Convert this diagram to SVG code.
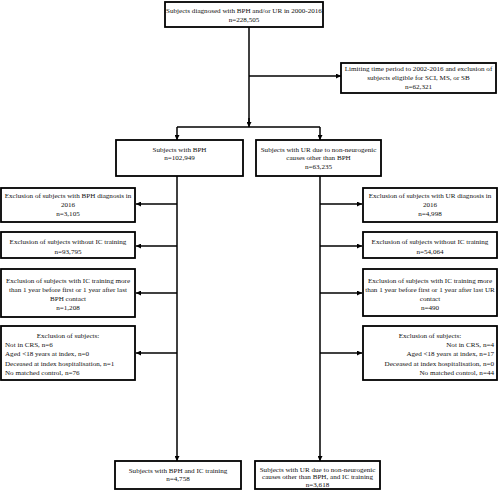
<svg xmlns="http://www.w3.org/2000/svg" width="500" height="498" viewBox="0 0 500 498">
<defs>
<marker id="ah" viewBox="0 0 10 10" refX="10" refY="5" markerWidth="5" markerHeight="5" markerUnits="userSpaceOnUse" orient="auto">
<path d="M0,0 L10,5 L0,10 z" fill="#000"/>
</marker>
<style>
.box{fill:#fff;stroke:#000;stroke-width:1.8}
.ln{fill:none;stroke:#000;stroke-width:1.5}
.ar{fill:none;stroke:#000;stroke-width:1.5;marker-end:url(#ah)}
text{font-family:"Liberation Serif","Times New Roman",serif;font-size:7.1px;fill:#111}
.c{text-anchor:middle}
.r{text-anchor:end}
</style>
</defs>
<rect width="500" height="498" fill="#fff"/>
<g id="connectors">
<line class="ln" x1="249" y1="27" x2="249" y2="122"/>
<line class="ar" x1="249" y1="118" x2="249" y2="127"/>
<line class="ar" x1="249" y1="76" x2="341" y2="76"/>
<line class="ln" x1="177" y1="127" x2="320" y2="127"/>
<line class="ar" x1="177" y1="127" x2="177" y2="140"/>
<line class="ar" x1="320" y1="127" x2="320" y2="140"/>
<line class="ar" x1="177" y1="176" x2="177" y2="461"/>
<line class="ar" x1="320" y1="176" x2="320" y2="461"/>
<line class="ar" x1="177" y1="204" x2="136" y2="204"/>
<line class="ar" x1="177" y1="246" x2="136" y2="246"/>
<line class="ar" x1="177" y1="293" x2="136" y2="293"/>
<line class="ar" x1="177" y1="353" x2="136" y2="353"/>
<line class="ar" x1="320" y1="204" x2="362" y2="204"/>
<line class="ar" x1="320" y1="246" x2="362" y2="246"/>
<line class="ar" x1="320" y1="293" x2="362" y2="293"/>
<line class="ar" x1="320" y1="353" x2="362" y2="353"/>
</g>
<g id="n-start">
<rect class="box" x="165" y="2" width="158" height="25"/>
<text class="c" x="244" y="12.5">Subjects diagnosed with BPH and/or UR in 2000-2016</text>
<text class="c" x="244" y="22">n=228,505</text>
</g>
<g id="n-limit">
<rect class="box" x="341" y="63" width="155" height="30"/>
<text class="c" x="418.5" y="71">Limiting time period to 2002-2016 and exclusion of</text>
<text class="c" x="418.5" y="80">subjects eligible for SCI, MS, or SB</text>
<text class="c" x="418.5" y="88.5">n=62,321</text>
</g>
<g id="n-bph">
<rect class="box" x="116" y="140" width="127" height="36"/>
<text class="c" x="179.5" y="151.5">Subjects with BPH</text>
<text class="c" x="179.5" y="160">n=102,949</text>
</g>
<g id="n-ur">
<rect class="box" x="256" y="140" width="125" height="36"/>
<text class="c" x="318.5" y="151.5">Subjects with UR due to non-neurogenic</text>
<text class="c" x="318.5" y="160">causes other than BPH</text>
<text class="c" x="318.5" y="168.5">n=63,235</text>
</g>
<g id="n-l1">
<rect class="box" x="1" y="188" width="134" height="34"/>
<text class="c" x="68" y="197.5">Exclusion of subjects with BPH diagnosis in</text>
<text class="c" x="68" y="207">2016</text>
<text class="c" x="68" y="216">n=3,105</text>
</g>
<g id="n-l2">
<rect class="box" x="1" y="232" width="134" height="26"/>
<text class="c" x="68" y="244">Exclusion of subjects without IC training</text>
<text class="c" x="68" y="253.5">n=93,795</text>
</g>
<g id="n-l3">
<rect class="box" x="1" y="269" width="134" height="48"/>
<text class="c" x="68" y="282.5">Exclusion of subjects with  IC training more</text>
<text class="c" x="68" y="292">than 1 year before first or 1 year after last</text>
<text class="c" x="68" y="301">BPH contact</text>
<text class="c" x="68" y="310">n=1,208</text>
</g>
<g id="n-l4">
<rect class="box" x="1" y="326" width="134" height="54"/>
<text class="c" x="68" y="337.5">Exclusion of subjects:</text>
<text x="5" y="347">Not in CRS, n=6</text>
<text x="5" y="356">Aged &lt;18 years at index, n=0</text>
<text x="5" y="365.5">Deceased at index hospitalisation, n=1</text>
<text x="5" y="374.5">No matched control, n=76</text>
</g>
<g id="n-r1">
<rect class="box" x="363" y="188" width="134" height="34"/>
<text class="c" x="430" y="197.5">Exclusion of subjects with UR diagnosis in</text>
<text class="c" x="430" y="207">2016</text>
<text class="c" x="430" y="216">n=4,998</text>
</g>
<g id="n-r2">
<rect class="box" x="363" y="232" width="134" height="26"/>
<text class="c" x="430" y="244">Exclusion of subjects without IC training</text>
<text class="c" x="430" y="253.5">n=54,064</text>
</g>
<g id="n-r3">
<rect class="box" x="363" y="269" width="134" height="47"/>
<text class="c" x="430" y="282.5">Exclusion of subjects with IC training more</text>
<text class="c" x="430" y="292">than 1 year before first or 1 year after last UR</text>
<text class="c" x="430" y="301">contact</text>
<text class="c" x="430" y="310">n=490</text>
</g>
<g id="n-r4">
<rect class="box" x="363" y="326" width="134" height="54"/>
<text class="c" x="430" y="337.5">Exclusion of subjects:</text>
<text class="r" x="494" y="347">Not in CRS, n=4</text>
<text class="r" x="494" y="356">Aged &lt;18 years at index, n=17</text>
<text class="r" x="494" y="365.5">Deceased at index hospitalisation, n=0</text>
<text class="r" x="494" y="374.5">No matched control, n=44</text>
</g>
<g id="n-bph-ic">
<rect class="box" x="115" y="461" width="126" height="28"/>
<text class="c" x="178" y="472.5">Subjects with BPH and IC training</text>
<text class="c" x="178" y="481">n=4,758</text>
</g>
<g id="n-ur-ic">
<rect class="box" x="255" y="461" width="125" height="28"/>
<text class="c" x="317.5" y="471.5">Subjects with UR due to non-neurogenic</text>
<text class="c" x="317.5" y="479">causes other than BPH, and IC training</text>
<text class="c" x="317.5" y="486.5">n=3,618</text>
</g>
</svg>
